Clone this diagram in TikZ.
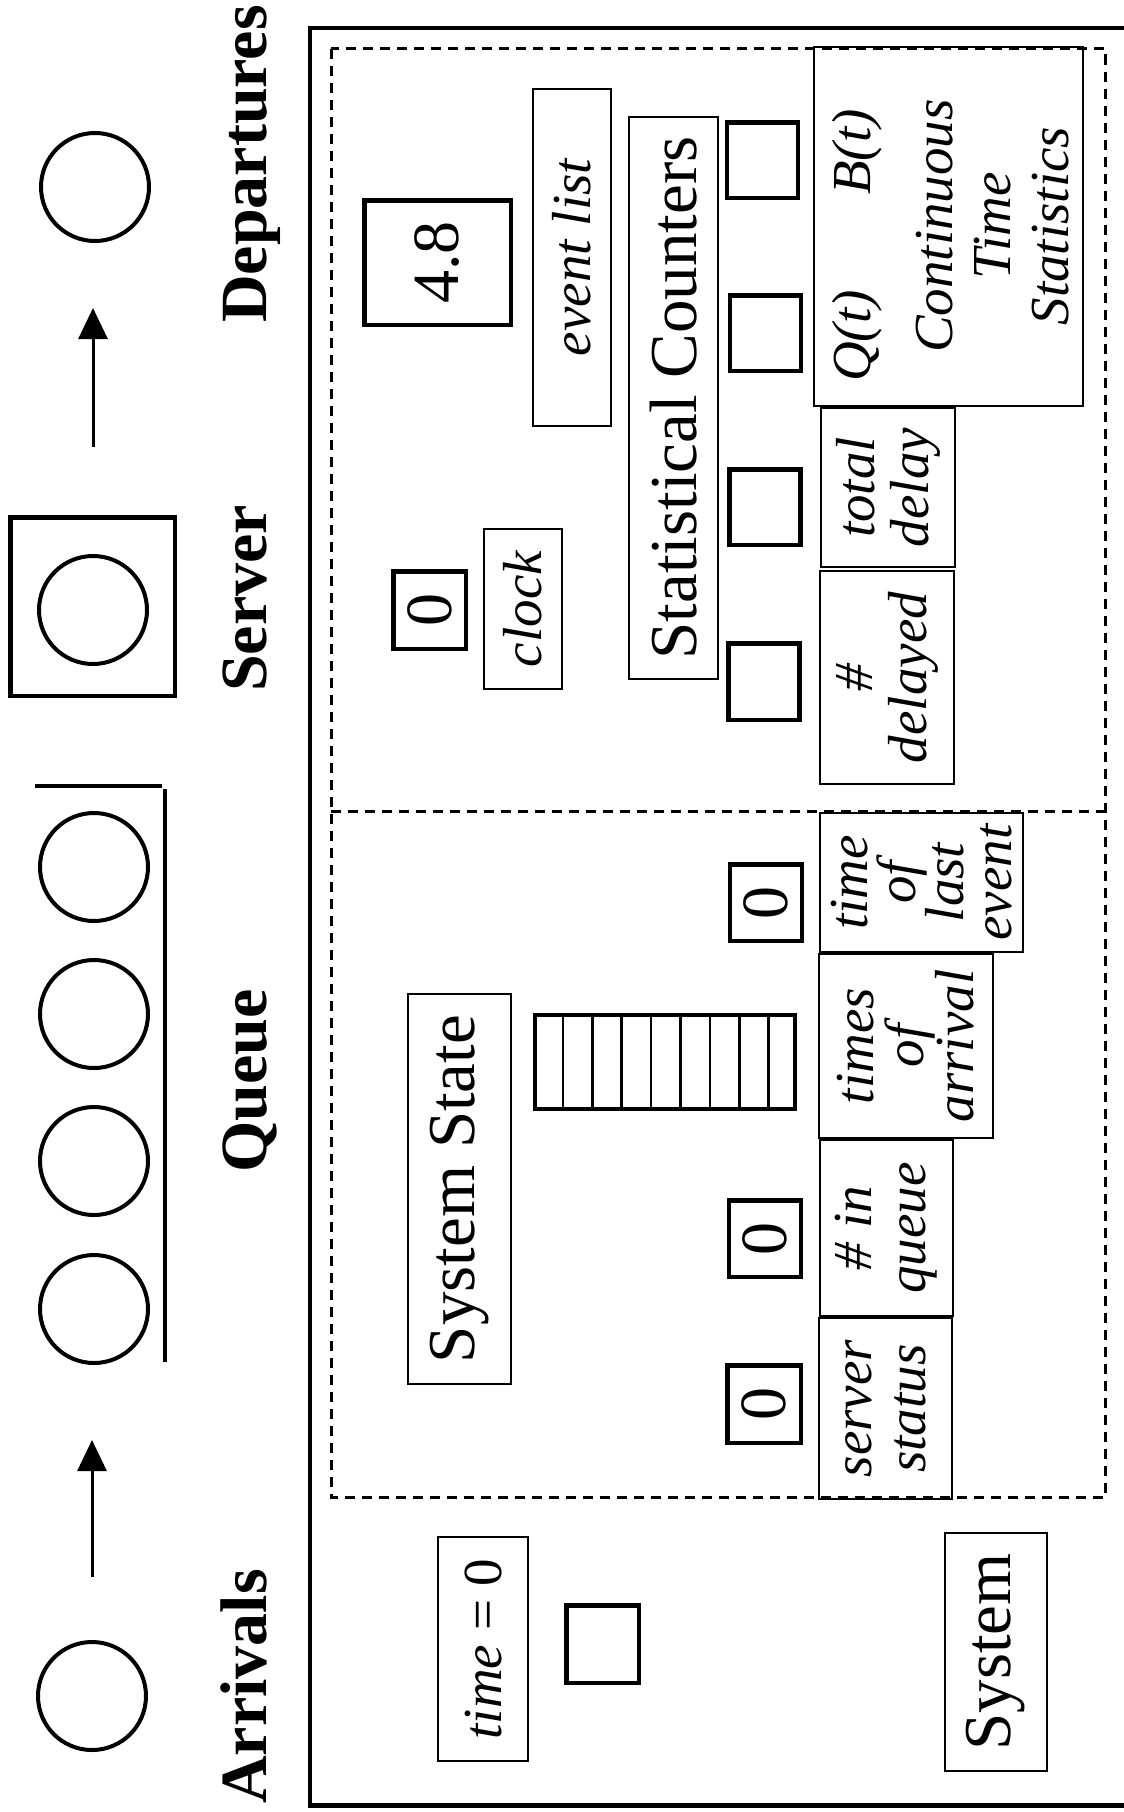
\documentclass[tikz,border=0pt]{standalone}
\usepackage{fontspec}
\setmainfont{Liberation Serif}
\usetikzlibrary{arrows.meta}
\begin{document}
\begin{tikzpicture}[x=1pt,y=-1pt,
  tbox/.style={draw, line width=2pt, rotate=90, inner sep=0pt, align=center,
    font=\itshape\fontsize{55}{54}\selectfont\lineskiplimit-1000pt},
  kbox/.style={draw, line width=4.5pt, rotate=90, inner sep=0pt,
    font=\fontsize{66}{70}\selectfont},
  rbox/.style={draw, line width=2pt, rotate=90, inner sep=0pt,
    font=\fontsize{67}{70}\selectfont},
  biglabel/.style={rotate=90, anchor=base, inner sep=0pt,
    font=\bfseries\fontsize{66}{70}\selectfont},
  itext/.style={rotate=90, inner sep=0pt, align=center,
    font=\itshape\fontsize{55}{58}\selectfont\lineskiplimit-1000pt},
  cust/.style={circle, draw, line width=4pt, minimum size=108pt, inner sep=0pt},
  flow/.style={line width=3pt, -{Triangle[length=31pt,width=29pt]}},
  dsh/.style={line width=3pt, dash pattern=on 10pt off 7pt},
  wall/.style={line width=4pt}
]
\useasboundingbox (0,0) rectangle (1124,1812);

% outer system frame and dashed regions
\draw[line width=4.5pt] (1124,28) -- (310,28) -- (310,1805.5) -- (1124,1805.5);
\draw[dsh] (331,48.5) rectangle (1105,1497);
\draw[dsh] (331,811) -- (1105,811);

% customers, server, queue
\node[cust] (dep) at (95,187) {};
\node[draw, line width=4.5pt, minimum width=164.5pt, minimum height=178.5pt, inner sep=0pt] (srv) at (92.5,606.5) {};
\node[cust] (srvc) at (93,610) {};
\node[cust] (q1) at (94,867) {};
\node[cust] (q2) at (94,1014) {};
\node[cust] (q3) at (94,1161) {};
\node[cust] (q4) at (94,1309) {};
\node[cust] (arr) at (92,1696) {};
\draw[wall] (35,785.5) -- (162,785.5);
\draw[wall] (164.5,789) -- (164.5,1362);

\coordinate (da0) at (93,447);
\coordinate (da1) at (93,308);
\draw[flow] (da0) -- (da1);
\coordinate (aa0) at (92,1577);
\coordinate (aa1) at (92,1440);
\draw[flow] (aa0) -- (aa1);

% big labels
\node[biglabel] (ldep) at (266,164) {Departures};
\node[biglabel] (lsrv) at (266,598.5) {Server};
\node[biglabel] (lque) at (266,1081) {Queue};
\node[biglabel] (larr) at (266,1686.5) {Arrivals};

% upper region: clock, event list, statistical counters
\node[kbox, minimum width=124.5pt, minimum height=146.5pt] (evt) at (437.5,262.5) {4.8};
\node[tbox, minimum width=337pt, minimum height=78pt] (evl) at (572,257.5) {event list};
\node[rbox, minimum width=562pt, minimum height=89pt] (stc) at (673.5,398) {Statistical Counters};
\node[kbox, minimum width=75.5pt, minimum height=71pt] (sc1) at (762.5,160) {};
\node[kbox, minimum width=75.5pt, minimum height=71pt] (sc2) at (765.5,333) {};
\node[kbox, minimum width=75.5pt, minimum height=71pt] (sc3) at (765,507) {};
\node[kbox, minimum width=76.5pt, minimum height=71pt] (sc4) at (764,681.5) {};
\node[tbox, minimum width=359pt, minimum height=269pt] (cts) at (948.5,226.5) {};
\node[itext] (qt) at (857,336) {Q(t)};
\node[itext] (bt) at (857,152) {B(t)};
\node[itext] (ctst) at (993,226) {Continuous\\Time\\Statistics};
\node[tbox, minimum width=159pt, minimum height=134pt] (tdl) at (888,487.5) {total\\delay};
\node[tbox, minimum width=213pt, minimum height=134pt] (ndl) at (887,677.5) {\#\\delayed};
\node[kbox, minimum width=77.5pt, minimum height=72.5pt] (clk0) at (429.5,610) {0};
\node[tbox, minimum width=160pt, minimum height=78pt] (clk) at (523,609) {clock};

% lower region: system state
\node[rbox, minimum width=390pt, minimum height=103pt] (sst) at (459.5,1189) {System State};
\node[draw, line width=4pt, minimum width=260pt, minimum height=94pt, inner sep=0pt] (arrq) at (665,1062) {};
\foreach \k in {1,...,8} {
  \draw[line width=2.5pt] ({533.5+29.4*\k},1015) -- ({533.5+29.4*\k},1109);
}
\node[kbox, minimum width=76.5pt, minimum height=72pt] (tle0) at (766,902.5) {0};
\node[kbox, minimum width=76.5pt, minimum height=72pt] (niq0) at (765,1238.5) {0};
\node[kbox, minimum width=77.5pt, minimum height=73.5pt] (ss0) at (764,1404) {0};
\node[tbox, font=\itshape\fontsize{55}{48}\selectfont\lineskiplimit-1000pt,
  minimum width=139pt, minimum height=203pt] (tle) at (921.5,882.5) {time\\of\\last\\event};
\node[tbox, font=\itshape\fontsize{55}{50}\selectfont\lineskiplimit-1000pt,
  minimum width=184pt, minimum height=174pt] (toa) at (906,1046) {times\\of\\arrival};
\node[tbox, minimum width=176pt, minimum height=133pt] (niq) at (886.5,1228) {\# in\\queue};
\node[tbox, minimum width=181pt, minimum height=133pt] (sstat) at (885.5,1408.5) {server\\status};

% bottom: time and system
\node[tbox, minimum width=224pt, minimum height=90pt] (t0) at (483,1649) {time {\upshape = 0}};
\node[kbox, minimum width=77.5pt, minimum height=72.5pt] (emp) at (602.5,1644) {};
\node[rbox, minimum width=238pt, minimum height=102pt] (sys) at (996,1652) {System};
\end{tikzpicture}
\end{document}
